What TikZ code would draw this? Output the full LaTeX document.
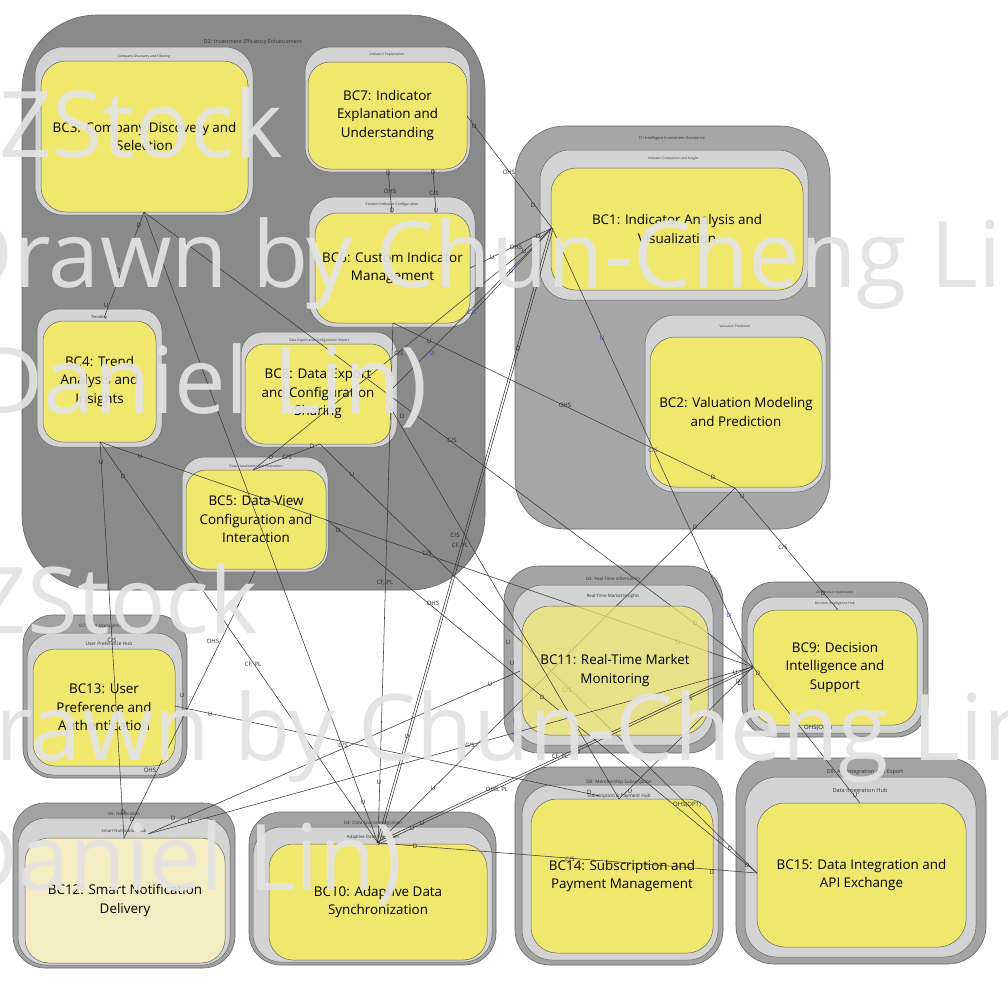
\documentclass[tikz,border=0pt]{standalone}
\usepackage{fontspec}
\setmainfont{Open Sans}
\definecolor{dtwoc}{HTML}{8A8A8A}
\definecolor{donec}{HTML}{A6A6A6}
\definecolor{domc}{HTML}{A3A3A3}
\definecolor{subc}{HTML}{D3D3D3}
\definecolor{bcy}{HTML}{F0E86E}
\definecolor{bcp}{HTML}{F4EDC4}
\definecolor{edgec}{HTML}{666666}
\definecolor{linec}{HTML}{3A3A3A}
\definecolor{bluec}{HTML}{3A3ACC}
\definecolor{wmc}{HTML}{E3E3E3}
\newcommand\mkbox[7]{\node[#6,minimum width={(#4)-(#2)},minimum height={(#5)-(#3)}] (#1) at ({((#2)+(#4))/2},{((#3)+(#5))/2}) {#7};}
\newcommand\cs{C/S}
\newcommand\cfpl{CF, PL}
\newcommand\ohspl{OHS, PL}
\newcommand\ohsopt{OHS(OPT)}
\begin{document}
\begin{tikzpicture}[x=1pt,y=-1pt,
  bigdom/.style={draw=edgec,line width=0.6pt,fill=dtwoc,rounded corners=75pt,inner sep=0pt,outer sep=0pt},
  dom/.style={draw=edgec,line width=0.6pt,fill=domc,rounded corners=#1,inner sep=0pt,outer sep=0pt},
  subd/.style={draw=edgec,line width=0.5pt,fill=subc,rounded corners=#1,inner sep=0pt,outer sep=0pt},
  bc/.style={draw=edgec,line width=0.5pt,fill=bcy,rounded corners=#1,align=center,inner sep=0pt,outer sep=0pt,font=\fontsize{13.4}{18.6}\selectfont},
  tt/.style={font=\fontsize{#1}{#1}\selectfont,inner sep=0pt,text=black!80},
  conn/.style={draw=linec,line width=0.55pt},
  lab/.style={font=\fontsize{6}{6}\selectfont,inner sep=0.3pt,text=black!85},
  blab/.style={font=\fontsize{6}{6}\selectfont,inner sep=0.3pt,text=bluec},
  wm/.style={font=\fontsize{92}{92}\selectfont,text=wmc,text opacity=0.93,inner sep=0pt}]
\useasboundingbox (0,0) rectangle (1008,991);
\fill[white] (0,0) rectangle (1008,991);
% ---------- D2 ----------
\mkbox{d2}{22}{15}{485}{590}{bigdom}{}
\node[tt=5.3] (t-d2) at (253,42) {D2: Investment Efficiency Enhancement};
\mkbox{s-cdf}{35}{47}{253}{215}{subd=28pt}{}
\node[tt=3.4] (t-cdf) at (144,57) {Company Discovery and Filtering};
\mkbox{bc3}{41}{61}{248}{212}{bc=25pt}{BC3: Company Discovery and\\Selection}
\mkbox{s-ie}{305}{47}{470}{172}{subd=25pt}{}
\node[tt=3.5] (t-ie) at (387,55) {Indicator Explanation};
\mkbox{bc7}{308}{62}{467}{169}{bc=22pt}{BC7:  Indicator\\Explanation and\\Understanding}
\mkbox{s-cic}{309}{197}{475}{327}{subd=25pt}{}
\node[tt=3.6] (t-cic) at (392,205) {Custom Indicator Configuration};
\mkbox{bc6}{315}{213}{470}{323}{bc=22pt}{BC6: Custom Indicator\\Management}
\mkbox{s-tr}{37}{309}{162}{447}{subd=22pt}{}
\node[tt=3.9] (t-tr) at (99,317) {Trending};
\mkbox{bc4}{43}{321}{156}{442}{bc=20pt}{BC4: Trend\\Analysis and\\Insights}
\mkbox{s-dec}{241}{332}{397}{447}{subd=22pt}{}
\node[tt=3.4] (t-dec) at (319,341) {Data Export and Configuration Import};
\mkbox{bc8}{245}{344}{391}{444}{bc=20pt}{BC8: Data Export\\and Configuration\\Sharing}
\mkbox{s-dvi}{182}{457}{328}{572}{subd=22pt}{}
\node[tt=3.4] (t-dvi) at (256,466) {Data Visualization and Interaction};
\mkbox{bc5}{186}{470}{326}{569}{bc=20pt}{BC5: Data View\\Configuration and\\Interaction}
% ---------- D1 ----------
\mkbox{d1}{515}{126}{830}{529}{dom=50pt,fill=donec}{}
\node[tt=3.9] (t-d1) at (672,138) {D1 Intelligent Investment Assistance};
\mkbox{s-ici}{540}{150}{808}{300}{subd=30pt}{}
\node[tt=3.2] (t-ici) at (673,159) {Indicator Comparison and Insight};
\mkbox{bc1}{551}{168}{803}{290}{bc=25pt}{BC1: Indicator Analysis and\\Visualization}
\mkbox{s-vp}{645}{315}{826}{492}{subd=30pt}{}
\node[tt=3.3] (t-vp) at (735,326) {Valuation Prediction};
\mkbox{bc2}{650}{337}{822}{487}{bc=25pt}{BC2: Valuation Modeling\\and Prediction}
% ---------- D5 ----------
\mkbox{d5}{504}{566}{723}{753}{dom=35pt}{}
\node[tt=4.4] (t-d5) at (613,579) {D5: Real-Time Information};
\mkbox{s-rt}{513}{585}{713}{745}{subd=30pt}{}
\node[tt=4.4] (t-rt) at (613,596) {Real-Time Market Insights};
% ---------- D3 ----------
\mkbox{d3}{742}{582}{928}{737}{dom=32pt}{}
\node[tt=3.2] (t-d3) at (835,592) {D3: Decision Automation};
\mkbox{s-dih}{747}{597}{923}{733}{subd=28pt}{}
\node[tt=3.4] (t-dih) at (835,604) {Decision Intelligence Hub};
\mkbox{bc9}{753}{610}{917}{725}{bc=24pt}{BC9:  Decision\\Intelligence and\\Support}
% ---------- D7 ----------
\mkbox{d7}{23}{615}{187}{778}{dom=30pt}{}
\node[tt=4.5] (t-d7) at (103,626) {D7: User Management};
\mkbox{s-uph}{27}{633}{182}{775}{subd=26pt}{}
\node[tt=4.8] (t-uph) at (109,644) {User Preference Hub};
\mkbox{bc13}{33}{649}{175}{766}{bc=22pt}{BC13:  User\\Preference and\\Authentication}
% ---------- D6 ----------
\mkbox{d6}{13}{803}{235}{968}{dom=32pt}{}
\node[tt=4.3] (t-d6) at (124,814) {D6: Notification};
\mkbox{s-snh}{18}{818}{230}{965}{subd=28pt}{}
\node[tt=4.2] (t-snh) at (124,831) {Smart Notification Hub};
\mkbox{bc12}{25}{838}{225}{963}{bc=24pt,fill=bcp}{BC12:  Smart Notification\\Delivery}
% ---------- D4 ----------
\mkbox{d4}{249}{812}{496}{965}{dom=32pt}{}
\node[tt=4.5] (t-d4) at (373,823) {D4: Data Source Integration};
\mkbox{s-adi}{253}{827}{492}{962}{subd=28pt}{}
\node[tt=4.4] (t-adi) at (373,837) {Adaptive Data Integration};
\mkbox{bc10}{269}{844}{487}{960}{bc=24pt}{BC10:  Adaptive Data\\Synchronization}
% ---------- D8 ----------
\mkbox{d8}{515}{767}{723}{965}{dom=35pt}{}
\node[tt=4.7] (t-d8) at (619,782) {D8: Membership Subscription};
\mkbox{s-sph}{522}{785}{718}{960}{subd=30pt}{}
\node[tt=4.7] (t-sph) at (619,796) {Subscription \& Payment Hub};
\mkbox{bc14}{531}{799}{713}{953}{bc=26pt}{BC14:  Subscription and\\Payment Management}
% ---------- D9 ----------
\mkbox{d9}{736}{758}{986}{964}{dom=38pt}{}
\node[tt=5.4] (t-d9) at (865,772) {D9: API Integration and Export};
\mkbox{s-dihub}{745}{777}{976}{957}{subd=32pt}{}
\node[tt=5.6] (t-dihub) at (860,791) {Data Integration Hub};
\mkbox{bc15}{757}{803}{966}{947}{bc=28pt}{BC15:  Data Integration and\\API Exchange}
% ---------- anchors ----------
\coordinate (a1) at (552,228);
\coordinate (a2) at (735,488);
\coordinate (a3) at (144,212);
\coordinate (a4) at (100,442);
\coordinate (a9) at (753,667);
\coordinate (a10) at (378,843);
\coordinate (a12) at (124,838);
\coordinate (p7r) at (467,116);
\coordinate (p7b1) at (388,169);
\coordinate (p7b2) at (433,169);
\coordinate (p6t1) at (392,213);
\coordinate (p6t2) at (436,213);
\coordinate (p6r) at (470,268);
\coordinate (p6br) at (470,316);
\coordinate (p6b) at (393,323);
\coordinate (p8r) at (391,390);
\coordinate (p8r2) at (386,400);
\coordinate (p8b) at (320,444);
\coordinate (p5t) at (253,470);
\coordinate (p5r) at (327,520);
\coordinate (p5b) at (255,571);
\coordinate (p4t) at (104,318);
\coordinate (p13r) at (175,706);
\coordinate (p14t) at (619,799);
\coordinate (p14t2) at (600,796);
\coordinate (p15l) at (757,873);
\coordinate (p15t) at (860,803);
\coordinate (p9t) at (838,610);
\coordinate (p11l) at (520,671);
\coordinate (p12r) at (150,833);
\coordinate (p12r2) at (148,834);
% ---------- connectors under BC11 ----------
\draw[conn] (a3) -- (a9);
\draw[conn] (a4) -- (a9);
\draw[conn] (p8b) -- (p15l);
\draw[conn] (a2) -- (a10);
\foreach \x/\y/\t [count=\i] in {183/240/U,452/440/\cs,695/623/D,140/456/U,427/553/\cs,678/642/D,352/474/U,567/690/\cs,687/805/\ohsopt,730/848/D,695/527/D,433/788/U}
  \node[lab] (la\i) at (\x,\y) {\t};
\mkbox{bc11}{522}{606}{708}{735}{bc=28pt,fill opacity=0.72,text opacity=1}{BC11:  Real-Time Market\\Monitoring}
% ---------- other connectors ----------
\draw[conn] (p7b1) -- (p6t1);
\draw[conn] (p7b2) -- (p6t2);
\draw[conn] (p7r) -- (a1);
\draw[conn] (p6r) -- (a1);
\draw[conn] (p6br) -- (a1);
\draw[conn] (p5t) -- (a1);
\draw[conn] (p8r) -- (a1);
\draw[conn] (a3) -- (p4t);
\draw[conn] (a3) -- (a10);
\draw[conn] (a4) -- (a12);
\draw[conn] (a4) -- (a10);
\draw[conn] (p8b) -- (p5t);
\draw[conn] (p5r) -- (p15l);
\draw[conn] (p6b) -- (a10);
\draw[conn] (p6b) -- (a2);
\draw[conn] (a2) -- (p9t);
\draw[conn] (a1) -- (a9);
\draw[conn] ([xshift=-1.2pt]a1) -- ([xshift=-1.2pt]a10);
\draw[conn] ([xshift=1.2pt]a1) -- ([xshift=1.2pt]a10);
\draw[conn] (a9) -- (p15t);
\draw[conn] (a10) -- (p15l);
\draw[conn] (p13r) -- (p14t2);
\draw[conn] (p14t) -- (a9);
\draw[conn] (p11l) -- (p12r);
\draw[conn] (p12r2) -- (a9);
\draw[conn] (a12) -- (p5b);
\draw[conn] ([yshift=-1.3pt]a10) -- ([yshift=-1.3pt]a9);
\draw[conn] ([yshift=1.3pt]a10) -- ([yshift=1.3pt]a9);
\draw[conn] (p8r2) -- (p14t);
\foreach \x/\y/\t [count=\i] in {388/173/U,390/191/OHS,392/210/D,433/172/D,434/193/\cs,436/210/U,474/126/U,509/172/OHS,533/205/D,492/257/U,516/247/OHS,271/457/D,399/353/\cs,524/251/U,538/236/D,139/225/D,118/270/D,106/305/U,162/257/D,363/802/U,101/462/U,112/640/\cs,123/812/D,123/476/D,253/665/\cfpl,312/446/D,287/457/\cs,338/530/D,433/603/OHS,512/663/U,542/697/D,747/865/D,385/583/\cfpl,379/782/U,429/341/U,565/405/OHS,713/477/D,742/496/U,783/547/\cs,823/593/D,518/348/D,455/535/\cs,460/546/\cfpl,407/736/U,758/673/D,855/795/U,818/728/\ohsopt,415/846/D,570/859/\cs,712/872/D,210/714/U,343/745/\cs,589/792/D,630/791/U,740/683/D,490/684/U,173/818/D,190/821/D,470/745/\cs,735/672/U,132/819/D,150/770/OHS,182/695/U,213/641/OHS,497/790/\ohspl,560/757/\cfpl,578/752/D,688/698/\cs,738/681/D,422/823/U,412/828/U,402/416/D,508/642/U}
  \node[lab] (lb\i) at (\x,\y) {\t};
\foreach \x/\y/\t [count=\i] in {472/312/\cs,511/271/U,432/353/D,602/338/U,653/450/\cs,729/615/D}
  \node[blab] (lc\i) at (\x,\y) {\t};
% ---------- watermark ----------
\node[wm,anchor=base east] (wm1) at (283,157) {ZStock};
\node[wm,anchor=base west] (wm2) at (-54,287) {Drawn by Chun-Cheng Lin};
\node[wm,anchor=base east] (wm3) at (428,413) {(Daniel Lin)};
\node[wm,anchor=base east] (wm4) at (258,633) {ZStock};
\node[wm,anchor=base west] (wm5) at (-72,760) {Drawn by Chun-Cheng Lin};
\node[wm,anchor=base east] (wm6) at (403,890) {(Daniel Lin)};
\end{tikzpicture}
\end{document}
